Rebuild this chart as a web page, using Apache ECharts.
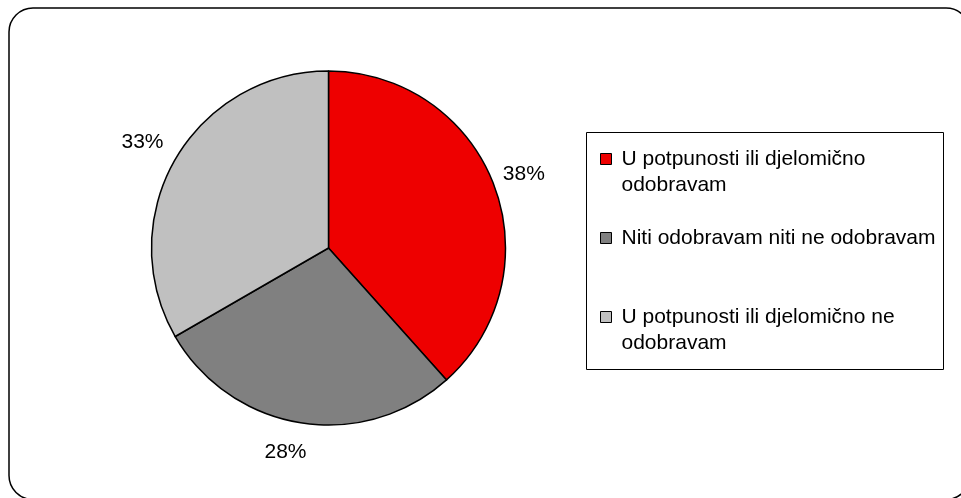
<!DOCTYPE html>
<html>
<head>
<meta charset="utf-8">
<script src="https://cdn.jsdelivr.net/npm/echarts@6/dist/echarts.min.js"></script>
<style>
  html, body { margin: 0; padding: 0; background: #fff; }
  #chart { width: 961px; height: 498px; }
</style>
</head>
<body>
<div id="chart"></div>
<script>
  // data
  const categories = [
    'U potpunosti ili djelomično odobravam',
    'Niti odobravam niti ne odobravam',
    'U potpunosti ili djelomično ne odobravam'
  ];
  const values = [38, 28, 33];
  const colors = ['#ee0000', '#808080', '#c0c0c0'];
  // how the legend wraps each name
  const legendText = [
    '\nU potpunosti ili djelomično\nodobravam',
    'Niti odobravam niti ne odobravam',
    '\nU potpunosti ili djelomično ne\nodobravam'
  ];
  // label line lengths per slice (lines hidden, they only place the % labels)
  const labelLen = [30, 30, 35];
  const labelLen2 = [-19, -10.7, -18.6];

  let chart = echarts.init(document.getElementById('chart'));

  let fontFamily = '"Liberation Sans", Arial, sans-serif';

  let option = {
    animation: false,
    graphic: [
      {
        type: 'rect',
        shape: { x: 9, y: 8, width: 961, height: 491.5, r: 24 },
        style: { fill: 'none', stroke: '#000', lineWidth: 1.5 },
        silent: true
      },
      {
        type: 'rect',
        shape: { x: 586.5, y: 132.5, width: 357, height: 237 },
        style: { fill: 'none', stroke: '#000', lineWidth: 1 },
        silent: true
      }
    ],
    legend: {
      orient: 'vertical',
      left: 600,
      top: 120,
      padding: 0,
      itemGap: 27,
      itemWidth: 11,
      itemHeight: 11,
      icon: 'rect',
      itemStyle: { borderColor: '#000', borderWidth: 1 },
      textStyle: {
        fontFamily: fontFamily,
        fontSize: 21,
        lineHeight: 26,
        color: '#000',
        padding: [0, 0, 0, 5]
      },
      formatter: function (name) {
        return legendText[categories.indexOf(name)];
      },
      data: categories
    },
    series: [
      {
        type: 'pie',
        center: [328.5, 248],
        radius: 177,
        startAngle: 90,
        clockwise: true,
        avoidLabelOverlap: false,
        itemStyle: { borderColor: '#000', borderWidth: 1.5 },
        emphasis: { disabled: true },
        label: {
          show: true,
          position: 'outside',
          formatter: '{c}%',
          fontFamily: fontFamily,
          fontSize: 21,
          color: '#000',
          distanceToLabelLine: 0
        },
        labelLine: { show: false },
        data: categories.map(function (name, i) {
          return {
            name: name,
            value: values[i],
            itemStyle: { color: colors[i] },
            labelLine: { show: false, length: labelLen[i], length2: labelLen2[i] }
          };
        })
      }
    ]
  };

  chart.setOption(option);
</script>
</body>
</html>
